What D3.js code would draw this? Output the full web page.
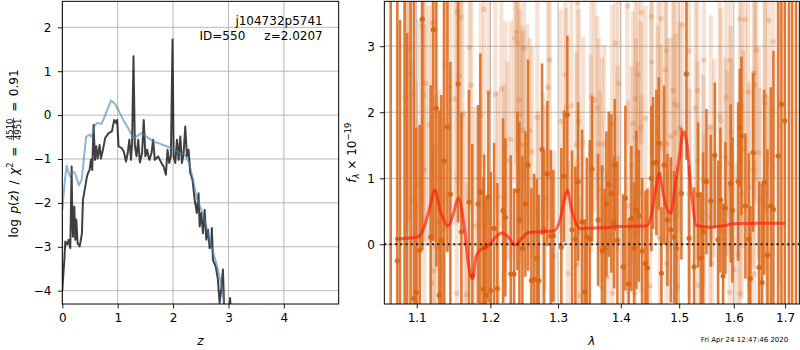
<!DOCTYPE html>
<html><head><meta charset="utf-8">
<script src="https://cdn.jsdelivr.net/npm/d3@7"></script>
<style>body{margin:0;background:#fff}svg{display:block}text{font-family:"DejaVu Sans",sans-serif;fill:#000}</style>
</head><body><svg id="c" width="800" height="350"></svg>
<script>
// ---------- left panel data: log p(z) and chi2 curve ----------
const zGray=[0.000,0.012,0.036,0.054,0.070,0.084,0.100,0.114,0.130,0.144,0.168,0.180,0.192,0.216,0.234,0.252,0.276,0.312,0.335,0.354,0.372,0.414,0.444,0.470,0.492,0.516,0.540,0.564,0.589,0.613,0.637,0.673,0.697,0.733,0.775,0.835,0.895,0.937,0.970,0.990,1.015,1.070,1.110,1.150,1.180,1.210,1.240,1.260,1.285,1.310,1.340,1.370,1.400,1.440,1.470,1.500,1.530,1.570,1.610,1.640,1.670,1.730,1.790,1.830,1.870,1.900,1.930,1.960,1.990,2.010,2.040,2.070,2.100,2.130,2.160,2.190,2.220,2.250,2.280,2.310,2.350,2.390,2.430,2.460,2.480,2.510,2.540,2.570,2.600,2.630,2.660,2.690,2.700,2.720,2.770,2.810,2.840,2.870,2.900,2.930,2.980,3.030,3.060];
const pGray=[-4.00,-3.75,-3.30,-2.88,-2.92,-2.95,-2.90,-2.84,-2.95,-3.03,-1.17,-2.40,-2.77,-2.08,-2.84,-2.38,-2.92,-2.99,-2.85,-2.69,-1.93,-1.63,-1.40,-1.30,-1.25,-1.02,-1.25,-0.22,-1.02,-0.71,-0.99,-0.68,-0.99,-0.79,-0.52,-0.41,-0.37,-0.11,-0.18,-0.11,-0.71,-0.75,-0.83,-1.06,-0.87,-0.56,-1.02,-0.64,1.34,-0.71,-0.94,-0.56,-1.08,-0.87,-0.11,-0.94,-0.79,-1.02,-0.87,-0.56,-1.02,-0.94,-1.09,-1.17,-1.36,-0.79,-1.09,-0.94,1.72,-0.94,-1.09,-0.56,-1.02,-0.49,-1.09,-0.87,-0.26,-0.94,-0.79,-1.32,-1.47,-1.93,-2.23,-1.78,-2.54,-2.23,-2.69,-2.16,-2.84,-2.61,-3.03,-2.99,-2.57,-3.30,-3.45,-3.75,-4.28,-3.98,-3.52,-4.70,-5.00,-4.17,-5.00];
const zBlue=[0.000,0.020,0.048,0.078,0.110,0.138,0.186,0.228,0.300,0.350,0.430,0.490,0.530,0.590,0.630,0.710,0.800,0.880,0.950,1.010,1.100,1.190,1.280,1.340,1.430,1.520,1.640,1.760,1.880,2.000,2.120,2.210,2.290,2.360,2.420,2.510,2.600,2.690,2.780,2.840,2.890,2.950];
const pBlue=[-2.16,-1.85,-1.47,-1.15,-1.30,-1.40,-1.28,-1.32,-1.60,-1.47,-0.49,-0.45,-0.49,-0.22,-0.18,-0.20,0.08,0.33,0.26,0.12,-0.11,-0.30,-0.52,-0.49,-0.41,-0.49,-0.60,-0.65,-0.71,-0.77,-0.87,-0.90,-1.09,-1.47,-1.85,-2.16,-2.54,-2.99,-3.37,-3.68,-3.98,-4.60];
const zTicks=[0,1,2,3,4];
const pTicks=[-4,-3,-2,-1,0,1,2];

// ---------- right panel data: spectrum ----------
const darkLam=[1.0667,1.0751,1.0785,1.0844,1.0877,1.0920,1.0965,1.0995,1.1039,1.1073,1.1183,1.1218,1.1258,1.1298,1.1325,1.1361,1.1406,1.1446,1.1551,1.1596,1.1701,1.1747,1.1827,1.1859,1.1902,1.1912,1.1935,1.1972,1.2006,1.2053,1.2100,1.2182,1.2215,1.2293,1.2341,1.2390,1.2419,1.2463,1.2507,1.2547,1.2596,1.2636,1.2676,1.2706,1.2756,1.2786,1.2836,1.2888,1.2927,1.3050,1.3092,1.3143,1.3216,1.3268,1.3311,1.3374,1.3417,1.3449,1.3496,1.3533,1.3629,1.3694,1.3738,1.3764,1.3803,1.3845,1.3889,1.3901,1.3944,1.4038,1.4076,1.4132,1.4176,1.4222,1.4261,1.4301,1.4357,1.4413,1.4447,1.4515,1.4545,1.4601,1.4643,1.4688,1.4735,1.4793,1.4852,1.4910,1.4951,1.5039,1.5129,1.5177,1.5267,1.5339,1.5388,1.5430,1.5491,1.5571,1.5645,1.5706,1.5749,1.5799,1.5842,1.5943,1.5974,1.6082,1.6114,1.6145,1.6221,1.6286,1.6317,1.6369,1.6486,1.6544,1.6584,1.6649,1.6716,1.6767,1.6860,1.6926,1.6994,1.7077,1.7141,1.7220];
const darkFlux=[4.30,-0.25,-1.60,4.00,-1.30,4.40,-0.82,-0.73,-0.09,3.41,0.11,3.25,2.06,-0.77,0.06,1.26,1.78,0.76,2.43,0.19,0.64,-0.48,0.61,0.79,-0.68,-0.04,-0.77,0.72,-0.70,0.24,-0.67,0.51,0.41,-0.45,-0.45,0.81,0.36,-0.06,0.61,1.20,-0.55,-0.53,-0.21,-0.55,1.44,0.22,1.07,0.13,0.13,-0.04,1.03,1.96,0.22,0.08,0.95,0.34,-0.72,0.11,0.08,1.14,0.37,-0.10,-0.06,0.61,0.91,0.77,0.33,1.20,0.06,-0.34,0.70,-0.60,0.39,-0.06,0.52,0.43,-0.10,-0.29,-0.36,1.00,1.23,1.24,1.53,-0.44,1.20,0.37,0.22,0.11,-0.06,0.77,2.58,0.09,-0.34,0.75,-0.21,0.19,0.95,0.66,1.35,0.07,0.67,-0.48,0.55,0.92,0.52,0.95,1.76,1.64,0.58,0.08,-0.52,1.39,-0.35,-0.58,0.94,-0.16,0.58,0.53,1.34,2.12,1.87,-1.50,4.20,-1.20];
const darkErr=[6.0,5.0,5.0,5.0,4.5,6.0,4.5,2.5,1.9,3.5,2.3,3.2,2.4,2.8,2.2,2.7,1.9,2.0,2.1,1.8,1.7,2.0,1.5,2.1,1.7,1.4,1.5,1.6,1.8,1.3,1.6,1.4,1.2,1.8,1.3,1.2,1.5,1.4,1.1,1.6,1.4,1.6,1.2,1.3,1.3,1.2,1.1,1.3,1.0,1.5,1.0,1.2,1.2,1.1,1.2,1.4,1.1,1.2,1.5,1.1,1.0,1.3,0.9,1.1,1.1,1.2,1.0,1.0,1.2,1.1,1.4,1.0,1.1,1.0,1.2,1.0,1.1,1.1,1.2,1.1,1.0,1.1,1.0,1.0,1.2,1.0,1.1,1.0,1.1,1.0,1.3,1.1,1.2,1.1,1.0,1.2,1.1,1.0,1.1,1.2,1.1,1.1,1.0,1.2,1.1,1.2,0.9,1.2,1.1,1.3,1.1,1.2,1.3,1.5,1.4,1.6,1.8,2.4,3.0,4.0,4.5,6.0,6.0,5.5];
const lightLam=[1.0849,1.0878,1.0900,1.0943,1.0955,1.0987,1.1030,1.1073,1.1086,1.1099,1.1118,1.1165,1.1197,1.1205,1.1227,1.1250,1.1298,1.1361,1.1370,1.1442,1.1506,1.1533,1.1541,1.1564,1.1588,1.1610,1.1643,1.1669,1.1706,1.1733,1.1780,1.1865,1.1912,1.1978,1.2071,1.2109,1.2157,1.2196,1.2215,1.2244,1.2293,1.2351,1.2375,1.2390,1.2414,1.2429,1.2458,1.2473,1.2488,1.2536,1.2571,1.2606,1.2685,1.2696,1.2771,1.2797,1.2847,1.2872,1.2938,1.3041,1.3112,1.3127,1.3154,1.3205,1.3284,1.3290,1.3300,1.3322,1.3337,1.3390,1.3512,1.3522,1.3576,1.3618,1.3640,1.3656,1.3694,1.3698,1.3726,1.3780,1.3857,1.3860,1.3911,1.3944,1.3967,1.4109,1.4121,1.4176,1.4205,1.4234,1.4244,1.4250,1.4278,1.4289,1.4335,1.4340,1.4345,1.4413,1.4488,1.4515,1.4520,1.4618,1.4630,1.4660,1.4677,1.4680,1.4758,1.4775,1.4780,1.4793,1.4852,1.4893,1.4910,1.4934,1.4951,1.4968,1.4972,1.5011,1.5057,1.5177,1.5180,1.5292,1.5328,1.5330,1.5339,1.5430,1.5443,1.5448,1.5552,1.5571,1.5595,1.5632,1.5737,1.5756,1.5842,1.5857,1.5880,1.5924,1.5936,1.5943,1.5955,1.6006,1.6082,1.6114,1.6118,1.6145,1.6148,1.6178,1.6210,1.6273,1.6286,1.6369,1.6388,1.6390,1.6402,1.6433,1.6480,1.6499,1.6598,1.6600,1.6643,1.6676,1.6762,1.6894];
const lightFlux=[2.23,2.59,2.94,0.67,2.29,0.57,0.91,3.31,2.25,1.13,2.44,1.81,-0.59,3.35,-0.40,-0.04,0.34,0.22,2.72,2.38,2.20,-0.74,3.53,2.55,3.44,1.96,0.02,-0.76,2.98,2.41,0.28,1.96,3.56,2.31,2.27,0.72,2.35,0.72,1.48,1.27,1.59,3.12,3.21,3.05,2.19,1.96,1.51,1.73,2.97,1.63,1.72,1.40,1.92,0.51,0.59,0.71,2.38,2.79,-0.18,1.86,2.57,2.08,-0.44,2.10,1.51,-0.30,3.66,1.86,-0.78,1.54,1.38,2.24,2.19,2.06,1.52,0.83,1.13,-0.65,1.52,-0.50,1.83,-0.74,3.05,1.30,2.44,3.61,0.58,1.20,1.83,-0.74,2.20,1.62,1.37,2.57,1.77,0.76,3.51,1.91,-0.63,3.45,2.76,1.71,2.20,0.09,3.42,1.52,2.64,2.93,-0.29,1.52,1.63,2.33,2.13,1.69,-0.20,2.10,-0.64,1.77,3.32,2.93,0.76,2.06,2.33,1.27,-0.62,0.97,2.79,0.18,0.42,1.77,-0.29,1.30,1.94,1.87,1.32,2.23,1.23,-0.73,2.78,1.71,1.24,-0.38,-0.15,3.41,-0.75,2.10,0.77,1.44,3.41,2.31,0.86,1.13,2.59,-0.45,2.41,2.94,1.39,0.67,2.24,2.14,0.57,3.39,3.07,1.79];
const lightErr=[2.8,2.4,2.6,2.1,2.3,1.9,2.5,2.7,2.0,2.2,2.4,1.8,2.1,2.6,1.9,2.3,2.0,1.7,2.5,2.1,1.9,1.8,2.6,2.2,2.4,1.8,2.0,1.7,2.3,1.9,1.8,1.7,2.4,2.0,1.8,1.6,2.1,1.7,1.9,1.5,1.8,2.2,2.0,1.7,1.9,1.6,1.8,1.5,2.1,1.7,1.4,1.6,1.8,1.5,1.7,1.4,2.0,1.8,1.6,1.7,1.9,1.5,1.7,1.8,1.4,1.6,2.2,1.7,1.5,1.6,1.5,1.8,1.7,1.4,1.6,1.5,1.7,1.4,1.5,1.6,1.8,1.5,2.0,1.4,1.7,2.1,1.6,1.5,1.7,1.4,1.8,1.5,1.4,1.9,1.6,1.5,2.0,1.7,1.5,2.1,1.8,1.6,1.7,1.4,2.0,1.5,1.8,1.9,1.4,1.6,1.5,1.7,1.8,1.5,1.4,1.7,1.5,1.6,2.0,1.9,1.6,1.7,1.8,1.5,1.4,1.6,1.9,1.5,1.4,1.7,1.6,1.5,1.8,1.7,1.5,1.8,1.4,1.7,2.0,1.6,1.5,1.6,1.4,2.1,1.5,1.8,1.6,1.5,2.0,1.7,1.6,1.5,1.9,1.7,1.8,2.0,1.6,1.7,1.8,1.6,1.7,2.2,2.1,2.4];
const modelLam=[1.0722,1.1000,1.1065,1.1151,1.1240,1.1307,1.1419,1.1488,1.1555,1.1646,1.1692,1.1752,1.1799,1.1855,1.1949,1.2043,1.2162,1.2258,1.2355,1.2454,1.2552,1.2726,1.2927,1.3030,1.3092,1.3143,1.3211,1.3342,1.3661,1.3988,1.4436,1.4521,1.4594,1.4651,1.4710,1.4779,1.4852,1.4927,1.5004,1.5075,1.5136,1.5208,1.5303,1.5406,1.5558,1.5805,1.5992,1.6441,1.6999];
const modelFlux=[0.08,0.11,0.17,0.47,0.82,0.52,0.28,0.47,0.70,0.17,-0.29,-0.52,-0.19,-0.09,-0.04,0.07,0.17,0.11,-0.01,0.09,0.18,0.19,0.20,0.37,0.67,0.81,0.52,0.24,0.25,0.27,0.28,0.47,0.87,1.08,0.82,0.55,0.47,0.87,1.33,1.71,1.53,0.87,0.29,0.27,0.26,0.28,0.31,0.32,0.32];
const lamTicks=[1.1,1.2,1.3,1.4,1.5,1.6,1.7];
const fTicks=[0,1,2,3];

const svg=d3.select("#c");
const FS=12;

// ---------- LEFT PANEL ----------
const L={x0:62.33,x1:338.67,y0:1.33,y1:304};
const xz=d3.scaleLinear().domain([0,4.99]).range([L.x0,L.x1]);
const yp=d3.scaleLinear().domain([-4.304,2.592]).range([L.y1,L.y0]);
const defs=svg.append("defs");
defs.append("clipPath").attr("id","clipL").append("rect").attr("x",L.x0).attr("y",L.y0).attr("width",L.x1-L.x0).attr("height",L.y1-L.y0);
const gL=svg.append("g");
const gridL=gL.append("g").attr("stroke","#b0b0b0").attr("stroke-width",0.9);
zTicks.forEach(t=>gridL.append("line").attr("x1",xz(t)).attr("x2",xz(t)).attr("y1",L.y0).attr("y2",L.y1));
pTicks.forEach(t=>gridL.append("line").attr("x1",L.x0).attr("x2",L.x1).attr("y1",yp(t)).attr("y2",yp(t)));
const plotL=gL.append("g").attr("clip-path","url(#clipL)");
const lineL=d3.line().x(d=>xz(d[0])).y(d=>yp(d[1]));
plotL.append("path").attr("d",lineL(d3.zip(zGray,pGray))).attr("fill","none").attr("stroke","#000").attr("stroke-opacity",0.75).attr("stroke-width",2).attr("stroke-linejoin","round");
plotL.append("path").attr("d",lineL(d3.zip(zBlue,pBlue))).attr("fill","none").attr("stroke","steelblue").attr("stroke-opacity",0.6).attr("stroke-width",2).attr("stroke-linejoin","round");

function styleAxis(g){g.select(".domain").remove();g.selectAll(".tick line").attr("stroke","#000").attr("stroke-width",0.9);g.selectAll(".tick text").attr("font-size",FS).attr("font-family","DejaVu Sans").attr("fill","#000");}
gL.append("g").attr("transform",`translate(0,${L.y1})`).call(d3.axisBottom(xz).tickValues(zTicks).tickFormat(d3.format("d")).tickSize(4.5).tickPadding(4.5)).call(styleAxis);
gL.append("g").attr("transform",`translate(${L.x0},0)`).call(d3.axisLeft(yp).tickValues(pTicks).tickFormat(d3.format("d")).tickSize(4.5).tickPadding(6.5)).call(styleAxis);
gL.append("rect").attr("x",L.x0).attr("y",L.y0).attr("width",L.x1-L.x0).attr("height",L.y1-L.y0).attr("fill","none").attr("stroke","#000").attr("stroke-width",1);

gL.append("text").attr("x",322.7).attr("y",25).attr("text-anchor","end").attr("font-size",FS).text("j104732p5741");
gL.append("text").attr("x",322.7).attr("y",39.5).attr("text-anchor","end").attr("font-size",FS).attr("xml:space","preserve").style("white-space","pre").text("ID=550     z=2.0207");
gL.append("text").attr("x",(L.x0+L.x1)/2).attr("y",345).attr("text-anchor","middle").attr("font-size",FS).attr("font-style","italic").text("z");

// y label with fraction
const yl=svg.append("g").attr("transform",`translate(17.5,${(L.y0+L.y1)/2+0.8}) rotate(-90)`);
const t1=yl.append("text").attr("font-size",FS).attr("word-spacing",1.8).attr("xml:space","preserve").style("white-space","pre");
t1.append("tspan").text("log ");
t1.append("tspan").attr("font-style","italic").text("p");
t1.append("tspan").text("(");
t1.append("tspan").attr("font-style","italic").text("z");
t1.append("tspan").text(") / ");
t1.append("tspan").attr("font-style","italic").text("χ");
t1.append("tspan").attr("font-size",8.5).attr("dy",-5).text("2");
t1.append("tspan").attr("dy",5).text(" = ");
const w1=t1.node().getComputedTextLength();
const num=yl.append("text").attr("font-size",8.5).attr("text-anchor","middle").text("4510");
const fw=num.node().getComputedTextLength();
const den=yl.append("text").attr("font-size",8.5).attr("text-anchor","middle").text("4951");
const t3=yl.append("text").attr("font-size",FS).attr("word-spacing",1.8).attr("xml:space","preserve").style("white-space","pre").text(" = 0.91");
const w3=t3.node().getComputedTextLength();
const W=w1+fw+2+w3, x0=-W/2;
t1.attr("x",x0);
num.attr("x",x0+w1+1+fw/2).attr("y",-5);
den.attr("x",x0+w1+1+fw/2).attr("y",3);
yl.append("line").attr("x1",x0+w1+0.5).attr("x2",x0+w1+1.5+fw).attr("y1",-4).attr("y2",-4).attr("stroke","#000").attr("stroke-width",0.7);
t3.attr("x",x0+w1+fw+2);

// ---------- RIGHT PANEL ----------
const R={x0:384.33,x1:799.33,y0:1.33,y1:304};
const xl=d3.scaleLog().domain([1.0587,1.7288]).range([R.x0,R.x1]);
const yf=d3.scaleLinear().domain([-0.904,3.68]).range([R.y1,R.y0]);
defs.append("clipPath").attr("id","clipR").append("rect").attr("x",R.x0).attr("y",R.y0).attr("width",R.x1-R.x0).attr("height",R.y1-R.y0);
const gR=svg.append("g");
const gridR=gR.append("g").attr("stroke","#b0b0b0").attr("stroke-width",0.9);
lamTicks.forEach(t=>gridR.append("line").attr("x1",xl(t)).attr("x2",xl(t)).attr("y1",R.y0).attr("y2",R.y1));
fTicks.forEach(t=>gridR.append("line").attr("x1",R.x0).attr("x2",R.x1).attr("y1",yf(t)).attr("y2",yf(t)));
const plotR=gR.append("g").attr("clip-path","url(#clipR)");
const light=d3.zip(lightLam,lightFlux,lightErr);
const dark=d3.zip(darkLam,darkFlux,darkErr);
const cL="#d2691e", cD="#dc6a1c";
plotR.append("g").selectAll("line").data(light).join("line")
 .attr("x1",d=>xl(d[0])).attr("x2",d=>xl(d[0])).attr("y1",d=>yf(d[1]-d[2])).attr("y2",d=>yf(d[1]+d[2]))
 .attr("stroke",cL).attr("stroke-opacity",0.2).attr("stroke-width",4.2);
plotR.append("g").selectAll("circle").data(light).join("circle")
 .attr("cx",d=>xl(d[0])).attr("cy",d=>yf(d[1])).attr("r",2.7).attr("fill",cL).attr("fill-opacity",0.25);
plotR.append("g").selectAll("line").data(dark).join("line")
 .attr("x1",d=>xl(d[0])).attr("x2",d=>xl(d[0])).attr("y1",d=>yf(d[1]-d[2])).attr("y2",d=>yf(d[1]+d[2]))
 .attr("stroke",cD).attr("stroke-opacity",0.88).attr("stroke-width",2.6);
plotR.append("g").selectAll("circle").data(dark).join("circle")
 .attr("cx",d=>xl(d[0])).attr("cy",d=>yf(d[1])).attr("r",2.6).attr("fill","#d8640f").attr("fill-opacity",0.9);
const lineR=d3.line().x(d=>xl(d[0])).y(d=>yf(d[1])).curve(d3.curveMonotoneX);
plotR.append("path").attr("d",lineR(d3.zip(modelLam,modelFlux))).attr("fill","none").attr("stroke","#ff1a0a").attr("stroke-opacity",0.65).attr("stroke-width",3).attr("stroke-linejoin","round");
plotR.append("line").attr("x1",R.x0).attr("x2",R.x1).attr("y1",yf(0)).attr("y2",yf(0)).attr("stroke","#000").attr("stroke-width",2).attr("stroke-dasharray","2,3.3").attr("stroke-opacity",0.85);

gR.append("g").attr("transform",`translate(0,${R.y1})`).call(d3.axisBottom(xl).tickValues(lamTicks).tickFormat(d3.format(".1f")).tickSize(4.5).tickPadding(4.5)).call(styleAxis);
gR.append("g").attr("transform",`translate(${R.x0},0)`).call(d3.axisLeft(yf).tickValues(fTicks).tickFormat(d3.format("d")).tickSize(4.5).tickPadding(5)).call(styleAxis);
gR.append("rect").attr("x",R.x0).attr("y",R.y0).attr("width",R.x1-R.x0).attr("height",R.y1-R.y0).attr("fill","none").attr("stroke","#000").attr("stroke-width",1);
gR.append("text").attr("x",(R.x0+R.x1)/2).attr("y",345).attr("text-anchor","middle").attr("font-size",FS).attr("font-style","italic").text("λ");

const yr=svg.append("g").attr("transform",`translate(356,${(R.y0+R.y1)/2}) rotate(-90)`);
const tr=yr.append("text").attr("font-size",FS).attr("text-anchor","middle").attr("xml:space","preserve").style("white-space","pre");
tr.append("tspan").attr("font-style","italic").text("f");
tr.append("tspan").attr("font-style","italic").attr("font-size",8.5).attr("dy",2.5).text("λ");
tr.append("tspan").attr("dy",-2.5).text(" × 10");
tr.append("tspan").attr("font-size",8.5).attr("dy",-5).text("−19");

svg.append("text").attr("x",700.7).attr("y",341.5).attr("font-size",7).text("Fri Apr 24 12:47:46 2020");
</script></body></html>
